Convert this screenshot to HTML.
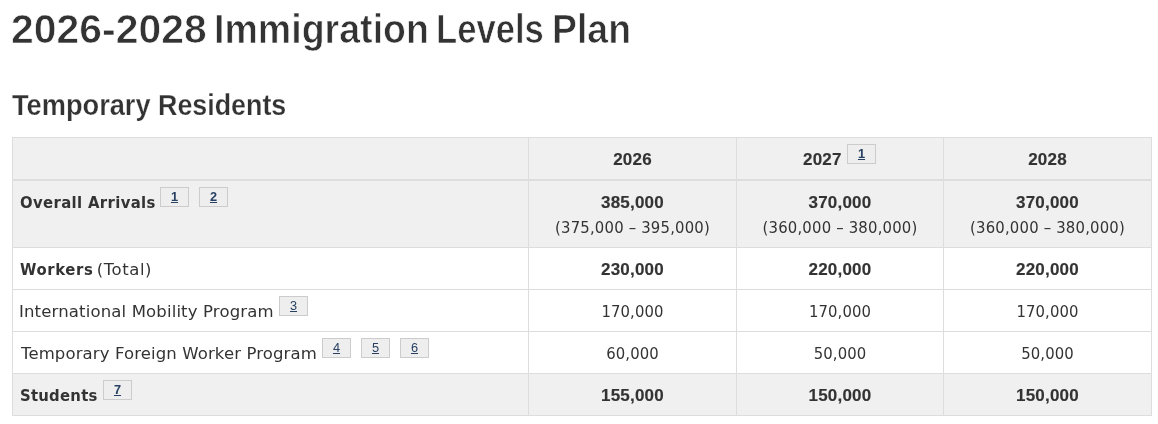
<!DOCTYPE html>
<html lang="en">
<head>
<meta charset="utf-8">
<title>2026-2028 Immigration Levels Plan</title>
<style>
html,body{margin:0;padding:0;background:#fff;}
body{width:1158px;height:424px;overflow:hidden;position:relative;color:#333;font-family:"DejaVu Sans","Liberation Sans",sans-serif;}
h1,h2{font-family:"Liberation Sans",sans-serif;font-weight:700;margin:0;position:absolute;white-space:nowrap;color:#333;}
h1{font-size:39px;line-height:44px;left:0;top:7px;width:700px;height:44px;}
h2{font-size:29px;line-height:34px;left:0;top:88px;width:400px;height:34px;}
h1 span{-webkit-text-stroke:.7px #fff;}
h2 span{-webkit-text-stroke:.25px #fff;}
h1 span,h2 span{position:absolute;top:0;display:inline-block;transform-origin:0 79.5%;}
table{position:absolute;left:12px;top:137px;width:1140px;border-collapse:separate;border-spacing:0;border-top:1px solid #ddd;border-left:1px solid #ddd;table-layout:fixed;}
th,td{box-sizing:border-box;border-right:1px solid #ddd;border-bottom:1px solid #ddd;padding:0;margin:0;font-weight:400;text-align:left;vertical-align:top;height:42px;}
thead th{border-bottom-width:2px;height:43px;}
tr.r1>*{height:67px;}
tr.active>*{background:#f0f0f0;}
.c{position:relative;width:100%;height:100%;}
.t{position:absolute;white-space:nowrap;line-height:25px;height:25px;}
.l{left:8px;font:400 16.5px/25px "DejaVu Sans","Liberation Sans",sans-serif;}
.l b{font:700 16.5px/25px "DejaVu Sans Condensed","DejaVu Sans",sans-serif;letter-spacing:.25px;}
.n{left:0;right:0;text-align:center;font:400 16.5px/25px "DejaVu Sans Condensed","DejaVu Sans",sans-serif;}
.nb{left:0;right:0;text-align:center;font:700 17px/25px "Liberation Sans",sans-serif;letter-spacing:.2px;-webkit-text-stroke:.15px #333;}
.n{letter-spacing:.1px;}
.n.r{letter-spacing:.2px;}
.fn{position:absolute;box-sizing:border-box;width:29px;height:20px;background:#eee;border:1px solid #ccc;text-align:center;font:400 12.75px/18px "Liberation Sans",sans-serif;color:#284162;}
.fn a{color:#284162;text-decoration:underline;}
.fn.b{font-weight:700;}
</style>
</head>
<body>
<h1><span style="left:10.9px;transform:translateY(.5px) scale(1.0492,1.03)">2026-2028 </span><span style="left:214.1px;transform:translateY(.5px) scale(.9631,1.03)">Immigration </span><span style="left:435.9px;transform:translateY(.5px) scale(.8879,1.03)">Levels </span><span style="left:551.6px;transform:translateY(.5px) scale(.9592,1.03)">Plan</span></h1>
<h2><span style="left:11.6px;transform:scaleX(.938)">Temporary </span><span style="left:158.25px;transform:scaleX(.9252)">Residents</span></h2>
<table>
<colgroup><col style="width:516px"><col style="width:208px"><col style="width:207px"><col style="width:208px"></colgroup>
<thead>
<tr class="active">
<th><div class="c"></div></th>
<th><div class="c"><div class="t nb" style="top:9px">2026</div></div></th>
<th><div class="c"><div class="t nb" style="top:9px;left:66px;right:auto">2027</div><sup class="fn b" style="left:110px;top:6px"><a>1</a></sup></div></th>
<th><div class="c"><div class="t nb" style="top:9px">2028</div></div></th>
</tr>
</thead>
<tbody>
<tr class="active r1">
<th><div class="c"><div class="t l" style="top:9px;left:7px"><b style="letter-spacing:.37px">Overall Arrivals</b></div><sup class="fn b" style="left:147px;top:6px"><a>1</a></sup><sup class="fn b" style="left:186px;top:6px"><a>2</a></sup></div></th>
<td><div class="c"><div class="t nb" style="top:9px">385,000</div><div class="t n r" style="top:34px">(375,000 – 395,000)</div></div></td>
<td><div class="c"><div class="t nb" style="top:9px">370,000</div><div class="t n r" style="top:34px">(360,000 – 380,000)</div></div></td>
<td><div class="c"><div class="t nb" style="top:9px">370,000</div><div class="t n r" style="top:34px">(360,000 – 380,000)</div></div></td>
</tr>
<tr>
<th><div class="c"><div class="t l" style="top:9px;left:7px"><b style="letter-spacing:.65px">Workers</b> <span style="letter-spacing:.55px;margin-left:-2px">(Total)</span></div></div></th>
<td><div class="c"><div class="t nb" style="top:9px">230,000</div></div></td>
<td><div class="c"><div class="t nb" style="top:9px">220,000</div></div></td>
<td><div class="c"><div class="t nb" style="top:9px">220,000</div></div></td>
</tr>
<tr>
<th><div class="c"><div class="t l" style="top:9px;left:6px;letter-spacing:.15px">International Mobility Program</div><sup class="fn" style="left:266px;top:6px"><a>3</a></sup></div></th>
<td><div class="c"><div class="t n" style="top:9px">170,000</div></div></td>
<td><div class="c"><div class="t n" style="top:9px">170,000</div></div></td>
<td><div class="c"><div class="t n" style="top:9px">170,000</div></div></td>
</tr>
<tr>
<th><div class="c"><div class="t l" style="top:9px;letter-spacing:.12px">Temporary Foreign Worker Program</div><sup class="fn" style="left:309px;top:6px"><a>4</a></sup><sup class="fn" style="left:348px;top:6px"><a>5</a></sup><sup class="fn" style="left:387px;top:6px"><a>6</a></sup></div></th>
<td><div class="c"><div class="t n" style="top:9px">60,000</div></div></td>
<td><div class="c"><div class="t n" style="top:9px">50,000</div></div></td>
<td><div class="c"><div class="t n" style="top:9px">50,000</div></div></td>
</tr>
<tr class="active">
<th><div class="c"><div class="t l" style="top:9px;left:7px"><b>Students</b></div><sup class="fn b" style="left:90px;top:6px"><a>7</a></sup></div></th>
<td><div class="c"><div class="t nb" style="top:9px">155,000</div></div></td>
<td><div class="c"><div class="t nb" style="top:9px">150,000</div></div></td>
<td><div class="c"><div class="t nb" style="top:9px">150,000</div></div></td>
</tr>
</tbody>
</table>
</body>
</html>
